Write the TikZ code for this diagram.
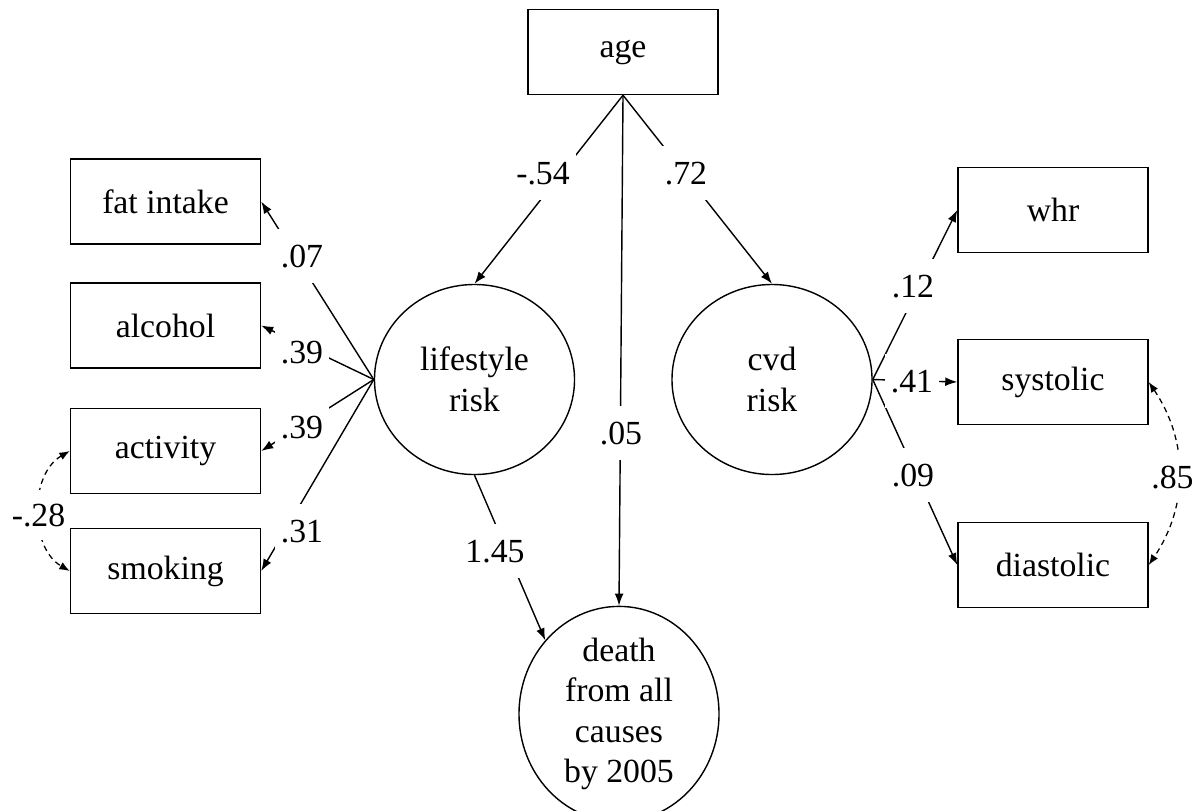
\documentclass[tikz,border=0pt]{standalone}
\usepackage{fontspec}
\setmainfont{Liberation Serif}
\usetikzlibrary{shapes.geometric,arrows.meta}
\begin{document}
\begin{tikzpicture}[x=0.025cm,y=-0.025cm,
  every node/.style={font=\fontsize{24}{28.8}\selectfont},
  box/.style={draw,line width=1pt,minimum width=4.75cm,minimum height=2.125cm,inner sep=0pt},
  latent/.style={draw,line width=1pt,ellipse,minimum width=5cm,minimum height=4.75cm,inner sep=0pt,align=center},
  path/.style={line width=1pt,-{Latex[length=0.3cm,width=0.22cm]}},
  cov/.style={line width=0.9pt,dash pattern=on 4pt off 3pt,{Latex[length=0.26cm,width=0.2cm]}-{Latex[length=0.26cm,width=0.2cm]}},
  lbl/.style={fill=white,inner xsep=0.15cm,inner ysep=0.4cm,anchor=base},
  lblc/.style={fill=white,inner xsep=0.05cm,inner ysep=0.35cm,anchor=base}]
\useasboundingbox (0,0) rectangle (1200,810);
% observed variables
\node[box] (age) at (623,52) {age};
\node[box] (fat) at (165.5,201.5) {fat intake};
\node[box] (alc) at (165.5,325.5) {alcohol};
\node[box] (act) at (165.5,451) {activity};
\node[box] (smo) at (165.5,571) {smoking};
\node[box] (whr) at (1053,210) {whr};
\node[box] (sys) at (1053,382) {systolic};
\node[box] (dia) at (1053,565) {diastolic};
% latent / outcome
\node[latent] (ls) at (474.5,379.5) {lifestyle\\risk};
\node[latent] (cvd) at (772,379.5) {cvd\\risk};
\node[latent] (death) at (619,714) {death\\from all\\causes\\by 2005};
% paths
\draw[path] (age.south) -- (ls.north);
\draw[path] (age.south) -- (cvd.north);
\draw[path] (age.south) -- (death.north);
\draw[path] (ls.west) -- (fat.east);
\draw[path] (ls.west) -- (alc.east);
\draw[path] (ls.west) -- (act.east);
\draw[path] (ls.west) -- (smo.east);
\draw[path] (cvd.east) -- (whr.west);
\draw[path] (cvd.east) -- (sys.west);
\draw[path] (cvd.east) -- (dia.west);
\draw[path] (ls.south) -- (death.135);
% covariances
\draw[cov] (act.west) to[bend right=60] (smo.west);
\draw[cov] (sys.east) to[bend left=34] (dia.east);
% labels
\node[lbl] (l1) at (543,184) {-.54};
\node[lbl] (l2) at (686,184) {.72};
\node[lbl] (l3) at (621,444) {.05};
\node[lbl] (l4) at (302,267) {.07};
\node[lbl] (l5) at (302,363) {.39};
\node[lbl] (l6) at (302,438) {.39};
\node[lbl] (l7) at (302,542) {.31};
\node[lbl] (l8) at (913,297) {.12};
\node[lbl] (l9) at (912,392) {.41};
\node[lbl] (l10) at (913,486) {.09};
\node[lbl] (l11) at (495,562) {1.45};
\node[lblc] (l12) at (38.5,526) {-.28};
\node[lblc] (l13) at (1172.5,488) {.85};
\end{tikzpicture}
\end{document}
